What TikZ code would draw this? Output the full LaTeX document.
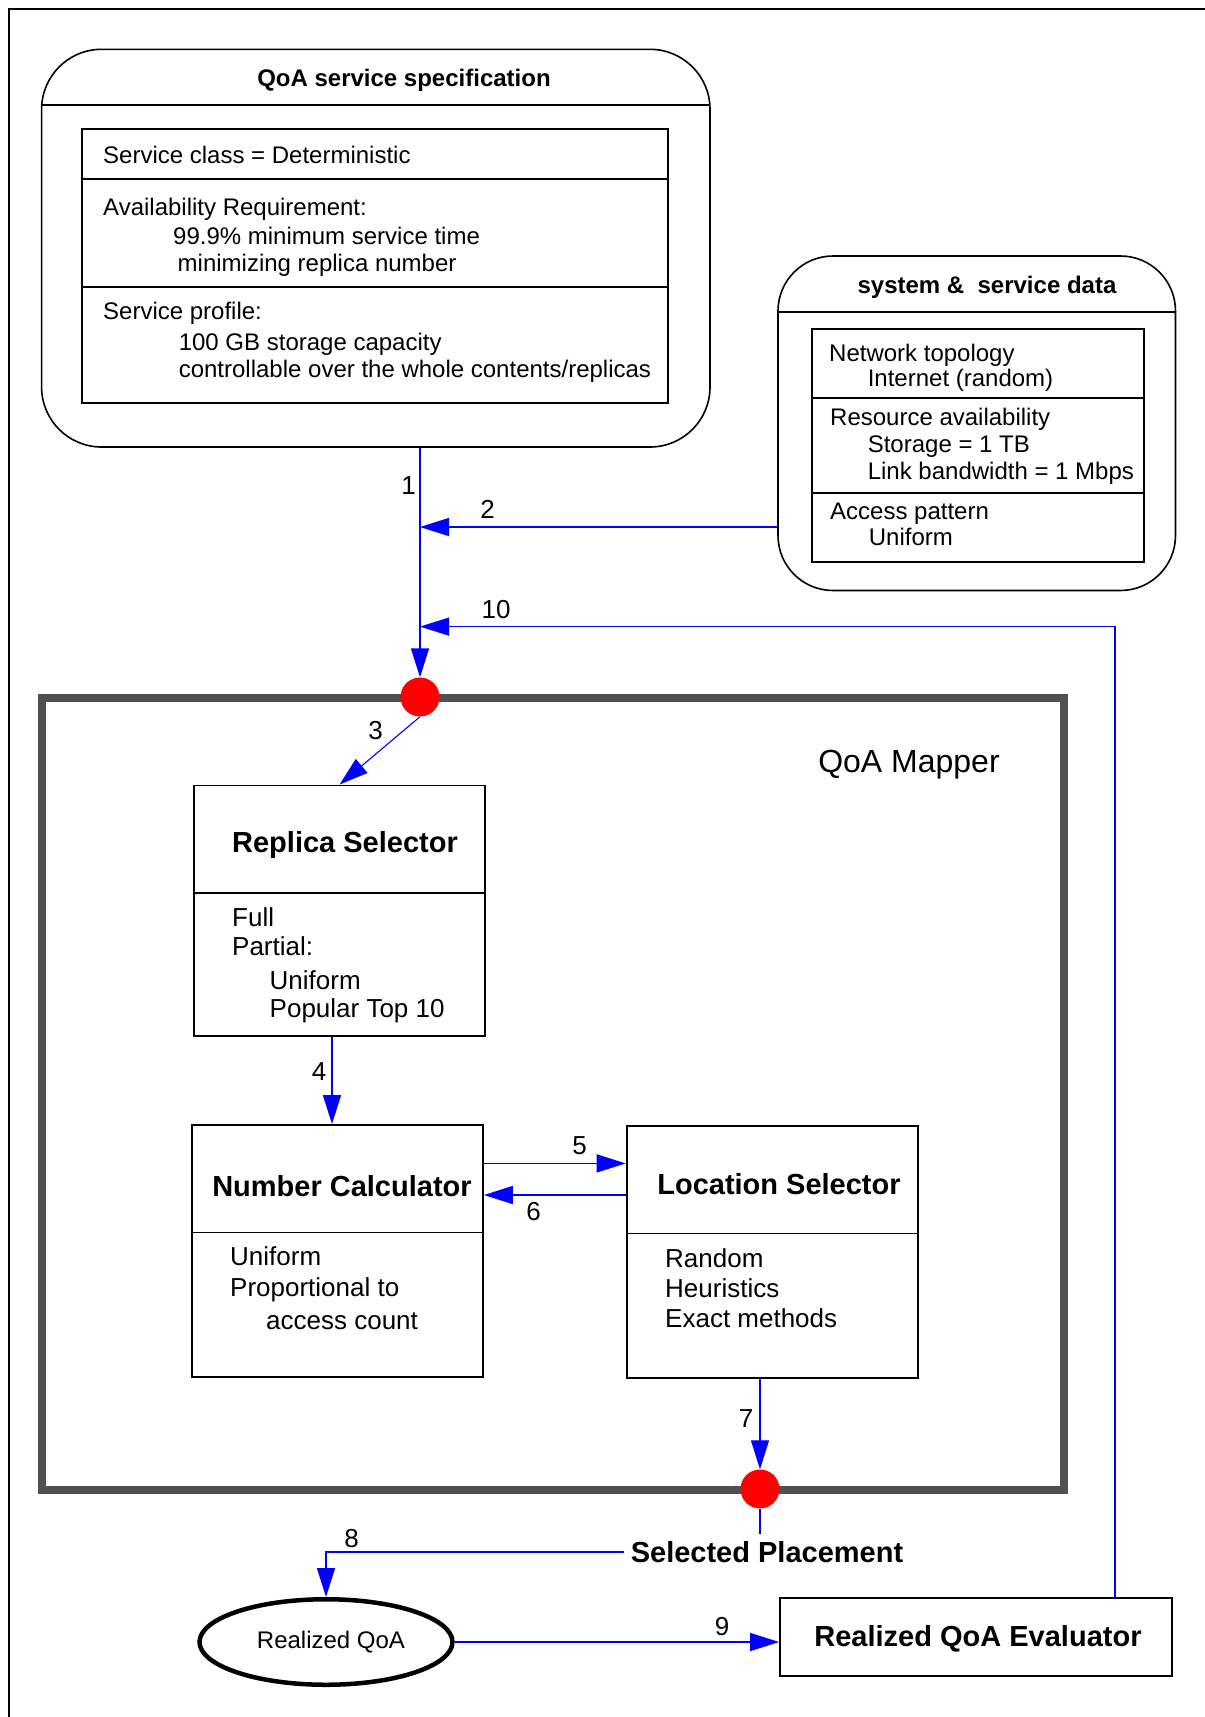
\documentclass[tikz,border=0pt]{standalone}
\usepackage{fontspec}
\setmainfont{Liberation Sans}
\usetikzlibrary{arrows.meta,shapes.geometric}
\definecolor{mapgray}{RGB}{80,80,80}

\begin{document}
\begin{tikzpicture}[x=1pt,y=-1pt,
  conn/.style={draw=blue,line width=1.5pt,-{Triangle[length=29pt,width=18pt]}},
  thinconn/.style={conn,line width=1.1pt},
  plain/.style={draw=blue,line width=1.5pt},
  txt/.style={anchor=base west,inner sep=0pt,font=\fontsize{24}{28}\selectfont},
  body/.style={anchor=base west,inner sep=0pt,font=\fontsize{26}{30}\selectfont},
  head/.style={anchor=base,inner sep=0pt,font=\bfseries\fontsize{24}{28}\selectfont},
  title/.style={anchor=base,inner sep=0pt,font=\bfseries\fontsize{29}{34}\selectfont},
  num/.style={anchor=base,inner sep=0pt,font=\fontsize{26}{30}\selectfont},
  panel/.style={draw=black,line width=1.6pt,inner sep=0pt},
  cell/.style={draw=black,line width=1.8pt},
  box/.style={draw=black,line width=1.8pt,inner sep=0pt},
  dot/.style={circle,fill=red,inner sep=0pt,minimum size=39pt},
]
\useasboundingbox (0,0) rectangle (1205,1717);
\fill[white] (0,0) rectangle (1205,1717);

% page frame
\draw[line width=1.5pt] (9,1717) -- (9,9) -- (1205,9);

% ---------- QoA service specification ----------
\node[panel,rounded corners=60pt,minimum width=668.4pt,minimum height=397.7pt] (spec) at (375.8,248.15) {};
\draw[line width=1.6pt] (41.6,105) -- (710,105);
\node[head] (specT) at (404,86.6) {QoA service specification};
\draw[cell] (82,129) rectangle (668,403);
\draw[cell] (82,178.6) -- (668,178.6);
\draw[cell] (82,287) -- (668,287);
\node[txt] (s1) at (103,163.1) {Service class = Deterministic};
\node[txt] (s2) at (103,215.6) {Availability Requirement:};
\node[txt] (s3) at (173,244.1) {99.9\% minimum service time};
\node[txt] (s4) at (177.5,271.6) {minimizing replica number};
\node[txt] (s5) at (103,319.6) {Service profile:};
\node[txt] (s6) at (178.6,350.6) {100 GB storage capacity};
\node[txt] (s7) at (178.6,377.6) {controllable over the whole contents/replicas};

% ---------- system & service data ----------
\node[panel,rounded corners=55pt,minimum width=397.5pt,minimum height=334.5pt] (sys) at (976.75,423.25) {};
\draw[line width=1.6pt] (778,312) -- (1175.5,312);
\node[head] (sysT) at (987,293.6) {system \&\ \ service data};
\draw[cell] (812,328.6) rectangle (1144,562);
\draw[cell] (812,397.7) -- (1144,397.7);
\draw[cell] (812,493) -- (1144,493);
\node[txt] (d1) at (829,361.6) {Network topology};
\node[txt] (d2) at (867.6,386.6) {Internet (random)};
\node[txt] (d3) at (830,425.6) {Resource availability};
\node[txt] (d4) at (867.6,452.3) {Storage = 1 TB};
\node[txt] (d5) at (867.6,479.6) {Link bandwidth = 1 Mbps};
\node[txt] (d6) at (830,519.1) {Access pattern};
\node[txt] (d7) at (868.7,545.6) {Uniform};

% ---------- QoA Mapper ----------
\draw[line width=8pt,draw=mapgray] (41.6,698) rectangle (1063.7,1490);
\node[anchor=base,inner sep=0pt,font=\fontsize{32}{38}\selectfont] (mapT) at (909,772.5) {QoA Mapper};

\node[dot] (dot1) at (420,697) {};
\node[dot] (dot2) at (760,1489) {};

% Replica Selector
\node[box,minimum width=291pt,minimum height=250.5pt] (rs) at (339.5,910.75) {};
\draw[cell] (194,893) -- (485,893);
\node[title] (rsT) at (345,852.9) {Replica Selector};
\node[body] (r1) at (232,926.4) {Full};
\node[body] (r2) at (232,955.9) {Partial:};
\node[body] (r3) at (269.5,989.9) {Uniform};
\node[body] (r4) at (269.5,1017.4) {Popular Top 10};

% Number Calculator
\node[box,minimum width=291.3pt,minimum height=252pt] (nc) at (337.35,1251) {};
\draw[cell] (191.7,1232.5) -- (483,1232.5);
\node[title] (ncT) at (342,1196.4) {Number Calculator};
\node[body] (n1) at (230,1265.9) {Uniform};
\node[body] (n2) at (230,1296.4) {Proportional to};
\node[body] (n3) at (266,1329.4) {access count};

% Location Selector
\node[box,minimum width=291.4pt,minimum height=252pt] (ls) at (772.3,1252) {};
\draw[cell] (626.6,1233.5) -- (918,1233.5);
\node[title] (lsT) at (779,1194.4) {Location Selector};
\node[body] (l1) at (665,1267) {Random};
\node[body] (l2) at (665,1297.4) {Heuristics};
\node[body] (l3) at (665,1327.4) {Exact methods};

% ---------- outputs ----------
\node[title,inner xsep=7pt] (sp) at (767,1562.4) {Selected Placement};
\node[ellipse,draw=black,line width=4.5pt,minimum width=253pt,minimum height=85.5pt,inner sep=0pt] (rq) at (326,1642) {};
\node[anchor=base,inner sep=0pt,font=\fontsize{24}{28}\selectfont] (rqT) at (331,1648.6) {Realized QoA};
\node[box,minimum width=392pt,minimum height=78pt] (eval) at (976,1637) {};
\node[title] (evT) at (978,1646) {Realized QoA Evaluator};

% ---------- connectors ----------
\coordinate (j2) at (420,527);
\coordinate (j10) at (420,626.6);
\coordinate (c10) at (1115,626.6);
\coordinate (x4) at (332,0);
\coordinate (y5) at (0,1163.4);
\coordinate (y6) at (0,1195);
\coordinate (spTop) at (760,1534);

\draw[plain] (spec.south -| dot1) -- (j2);
\draw[conn] (j2) -- (dot1.north);
\draw[conn] (sys.west |- j2) -- (j2);
\draw[thinconn] (eval.north -| c10) -- (c10) -- (j10);
\draw[thinconn] (dot1.south) -- (rs.north);
\draw[conn] (rs.south -| x4) -- (nc.north -| x4);
\draw[conn] (nc.east |- y5) -- (ls.west |- y5);
\draw[conn] (ls.west |- y6) -- (nc.east |- y6);
\draw[thinconn] (ls.south -| dot2) -- (dot2.north);
\draw[plain,line width=1.1pt] (dot2.south) -- (spTop);
\draw[conn] (sp.west) -| (rq.north);
\draw[conn] (rq.east) -- (eval.west |- rq.east);

% step numbers
\node[num] (n1l) at (408.6,494.4) {1};
\node[num] (n2l) at (487.5,518.4) {2};
\node[num] (n10l) at (496,618.4) {10};
\node[num] (n3l) at (375.7,739) {3};
\node[num] (n4l) at (319,1080.4) {4};
\node[num] (n5l) at (579.5,1154.4) {5};
\node[num] (n6l) at (533.5,1220) {6};
\node[num] (n7l) at (746,1427) {7};
\node[num] (n8l) at (351.6,1547.4) {8};
\node[num] (n9l) at (722,1635.1) {9};
\end{tikzpicture}
\end{document}
